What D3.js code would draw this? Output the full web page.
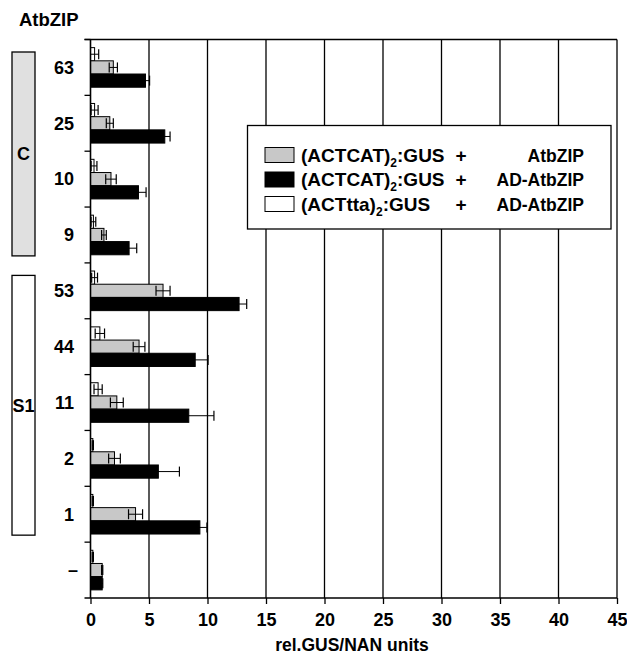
<!DOCTYPE html>
<html><head><meta charset="utf-8">
<script src="https://cdn.jsdelivr.net/npm/d3@7"></script>
<style>body{margin:0;background:#fff}svg{font-family:"Liberation Sans",Arial,Helvetica,sans-serif;font-weight:bold}</style>
</head><body><svg id="c" width="627" height="655"></svg>
<script>
const categories = ["63","25","10","9","53","44","11","2","1","\u2013"];
const whiteVals = [0.35,0.35,0.3,0.25,0.35,0.8,0.65,0.2,0.2,0.2];
const whiteErr  = [0.35,0.3,0.25,0.2,0.25,0.4,0.35,0.05,0.05,0.05];
const grayVals  = [1.95,1.65,1.75,1.15,6.2,4.15,2.25,2.05,3.85,1.0];
const grayErr   = [0.35,0.3,0.45,0.2,0.6,0.5,0.55,0.5,0.6,0.05];
const blackVals = [4.7,6.35,4.1,3.3,12.7,8.95,8.4,5.8,9.35,1.0];
const blackErr  = [0.35,0.45,0.65,0.65,0.65,1.1,2.15,1.8,0.6,0.05];
const xTicks = [0,5,10,15,20,25,30,35,40,45];
const groups = [{name:"C", from:"63", to:"9", fill:"#e0e0e0"},{name:"S1", from:"53", to:"1", fill:"#ffffff"}];
const legendItems = [
  {fill:"#c8c8c8", label:"(ACTCAT)", rest:":GUS", plus:"+", right:"AtbZIP"},
  {fill:"#000000", label:"(ACTCAT)", rest:":GUS", plus:"+", right:"AD-AtbZIP"},
  {fill:"#ffffff", label:"(ACTtta)", rest:":GUS", plus:"+", right:"AD-AtbZIP"}
];

const svg = d3.select("#c");
const L = 90.5, R = 617, T = 39.5, B = 598;
const FS = 18;
const x = d3.scaleLinear().domain([0,45]).range([L,R]);
const y = d3.scaleBand().domain(categories).range([T,B]);
const bh = 13.2;
const off = (y.bandwidth() - 3*bh)/2;

// grid lines
svg.append("g").selectAll("line").data(xTicks.slice(1)).join("line")
  .attr("x1",d=>x(d)).attr("x2",d=>x(d)).attr("y1",T).attr("y2",B)
  .attr("stroke","#000").attr("stroke-width",1.3);
// top border
svg.append("line").attr("x1",L-6).attr("x2",R).attr("y1",T).attr("y2",T).attr("stroke","#000").attr("stroke-width",1.3);

// bars
const series = [
  {vals:whiteVals, err:whiteErr, fill:"#ffffff", i:0},
  {vals:grayVals, err:grayErr, fill:"#c8c8c8", i:1},
  {vals:blackVals, err:blackErr, fill:"#000000", i:2}
];
const bars = svg.append("g");
series.forEach(s=>{
  categories.forEach((c,k)=>{
    const y0 = y(c)+off+s.i*bh;
    bars.append("rect").attr("x",x(0)).attr("y",y0).attr("width",x(s.vals[k])-x(0)).attr("height",bh)
      .attr("fill",s.fill).attr("stroke","#000").attr("stroke-width",1);
    const lo = s.vals[k]-s.err[k], hi = s.vals[k]+s.err[k], ym = y0+bh/2, ch = 5;
    bars.append("line").attr("x1",x(Math.max(0,lo))).attr("x2",x(hi)).attr("y1",ym).attr("y2",ym).attr("stroke","#000").attr("stroke-width",1);
    [lo,hi].forEach(v=>{ if(v>0) bars.append("line").attr("x1",x(v)).attr("x2",x(v)).attr("y1",ym-ch).attr("y2",ym+ch).attr("stroke","#000").attr("stroke-width",1.2);});
  });
});

// x axis
const xa = svg.append("g").attr("transform",`translate(0,${B})`)
  .call(d3.axisBottom(x).tickValues(xTicks).tickSize(6).tickPadding(9));
xa.select(".domain").attr("stroke-width",1.6).attr("d",`M${L-6},0H${R}`);
xa.selectAll(".tick line").attr("stroke-width",1.3);
xa.selectAll("text").attr("font-size",FS).attr("font-weight","bold").attr("fill","#000").attr("font-family","Liberation Sans, Arial, sans-serif");

// y axis (ticks at band boundaries)
const bounds = categories.map(c=>y(c));
svg.append("line").attr("x1",L).attr("x2",L).attr("y1",T).attr("y2",B).attr("stroke","#000").attr("stroke-width",1.6);
svg.append("g").selectAll("line").data(bounds).join("line")
  .attr("x1",L-6).attr("x2",L).attr("y1",d=>d).attr("y2",d=>d).attr("stroke","#000").attr("stroke-width",1.3);
svg.append("g").selectAll("text").data(categories).join("text")
  .attr("x",d=>d==="\u2013"?78:74).attr("y",d=>y(d)+y.bandwidth()/2).attr("dy","0.35em").attr("text-anchor","end")
  .attr("font-size",FS).text(d=>d);

// title
svg.append("text").attr("x",19).attr("y",26).attr("font-size",18.5).text("AtbZIP");
// x title
svg.append("text").attr("x",352).attr("y",651).attr("text-anchor","middle").attr("font-size",17.5).text("rel.GUS/NAN units");

// group boxes
groups.forEach(g=>{
  const y0 = y(g.from)+12.5, y1 = y(g.to)+y.bandwidth()-7;
  svg.append("rect").attr("x",12).attr("y",y0).attr("width",23).attr("height",y1-y0)
    .attr("fill",g.fill).attr("stroke","#000").attr("stroke-width",1.3);
  svg.append("text").attr("x",23.5).attr("y",(y0+y1)/2).attr("dy","0.35em").attr("text-anchor","middle").attr("font-size",FS).text(g.name);
});

// legend
const lg = svg.append("g");
lg.append("rect").attr("x",247.5).attr("y",125.5).attr("width",363.5).attr("height",103.5).attr("fill","#fff").attr("stroke","#000").attr("stroke-width",1.3);
legendItems.forEach((d,i)=>{
  const cy = 155 + i*24.5;
  lg.append("rect").attr("x",265).attr("y",cy-7.5).attr("width",29).attr("height",15).attr("fill",d.fill).attr("stroke","#000").attr("stroke-width",1);
  const t = lg.append("text").attr("x",301).attr("y",cy+6.5).attr("font-size",19);
  t.append("tspan").text(d.label);
  t.append("tspan").attr("font-size",12).attr("dy",5).text("2");
  t.append("tspan").attr("dy",-5).text(d.rest);
  lg.append("text").attr("x",461).attr("y",cy+6.5).attr("font-size",19).attr("text-anchor","middle").text(d.plus);
  lg.append("text").attr("x",584).attr("y",cy+6.5).attr("font-size",17.5).attr("text-anchor","end").text(d.right);
});
</script></body></html>
